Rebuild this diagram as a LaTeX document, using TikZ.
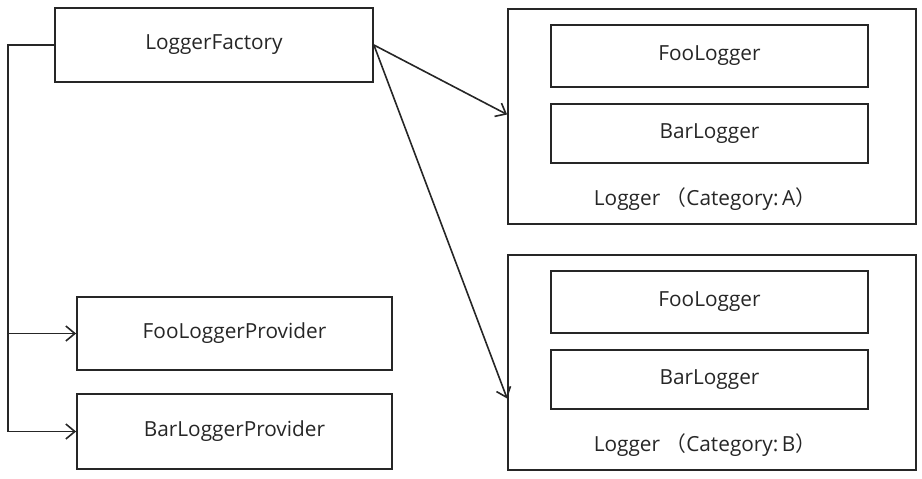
\documentclass[tikz,border=0pt]{standalone}
\usepackage{fontspec}
\setmainfont{Open Sans}
\newfontfamily\cjk{Noto Sans CJK SC}
\usetikzlibrary{arrows.meta}
\tikzset{
	box/.style={
			draw=black!85, line width=1.8pt, inner sep=0pt, text=black!85,
			font=\fontsize{20.8}{24}\selectfont
		},
	link/.style={
			draw=black!85, line width=1.6pt,
			-{Straight Barb[length=9pt, width=15pt, line width=1.6pt]}
		}
}

\begin{document}
\begin{tikzpicture}[x=1pt, y=-1pt]
		\useasboundingbox (0,0) rectangle (922,479);

		% Factory and the providers
		\node[box, minimum width=318pt, minimum height=74pt] (factory) at (214,45) {LoggerFactory};
		\node[box, minimum width=315pt, minimum height=73pt] (fooprov) at (234.5,333.5) {FooLoggerProvider};
		\node[box, minimum width=315pt, minimum height=75pt] (barprov) at (234.5,431.5) {BarLoggerProvider};

		% One logger per category
		\foreach \c/\y in {A/0, B/246} {
				\node[box, minimum width=408pt, minimum height=215pt] (cat\c) at (712,116.5+\y) {};
				\node[box, minimum width=317pt, minimum height=62pt] (foo\c) at (709.5,56+\y) {FooLogger};
				\node[box, minimum width=317pt, minimum height=59pt] (bar\c) at (709.5,133.5+\y) {BarLogger};
				\node[box, draw=none] (label\c) at (705,199+\y) {Logger {\cjk （}Category:\,\c{\cjk ）}};
			}

		% Connectors
		\coordinate (bus) at (8,45);
		\draw[link] (factory.west) -- (bus) |- (barprov.west);
		\draw[link] (bus |- fooprov.west) -- (fooprov.west);
		\draw[link] (factory.east) -- ([yshift=2pt]catA.west);
		\draw[link] (factory.east) -- ([yshift=-36pt]catB.west);
	\end{tikzpicture}
\end{document}
